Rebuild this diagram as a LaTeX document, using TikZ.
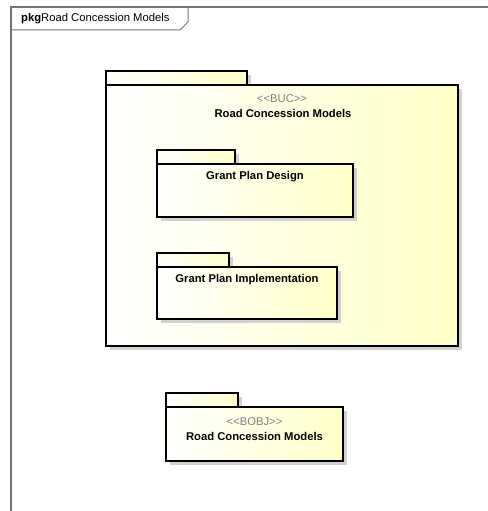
\documentclass[tikz,border=0pt]{standalone}
\usepackage{fontspec}
\setmainfont{Liberation Sans}[Ligatures=TeXOff]
\usetikzlibrary{calc}
\usetikzlibrary{positioning}
\tikzset{every node/.style={font=\fontsize{11.3}{13}\selectfont, inner sep=0}}
\definecolor{pkgyellow}{RGB}{255,255,200}
\colorlet{framegray}{black!55}
\colorlet{pkgshadow}{black!18}

% package: left, top, right, bottom, right end of tab
\newcommand{\pkgbox}[5]{%
  \fill[pkgshadow] ($(#1,#2)+(4,4)$) rectangle ($(#3,#4)+(4,4)$);
  \fill[pkgshadow] ($(#1,#2-14)+(4,4)$) rectangle ($(#5,#2)+(4,4)$);
  \shadedraw[left color=white, right color=pkgyellow, line width=1.6] (#1,#2-14) rectangle (#5,#2);
  \shadedraw[left color=white, right color=pkgyellow, line width=1.6] (#1,#2) rectangle (#3,#4);
}
\newcommand{\stereo}[1]{<\kern0pt<#1>\kern0pt>}

\begin{document}
\begin{tikzpicture}[x=1bp, y=-1bp]

\useasboundingbox (0,0) rectangle (488,511);
\clip (0,0) rectangle (488,511);

% 外框
\draw[framegray, line width=1.3] (11,520) -- (11,7) -- (500,7);
\draw[framegray, line width=1.0] (11,30) -- (180,30) -- (188,22) -- (188,7);
\node[anchor=west] (frametitle) at (21,19) {\textbf{pkg}Road Concession Models};

%%%%%%%%%%%%%%%%%%%%%%%%%%%%%%%%%%%%%%%%%%%%%%%%%%%%%%%%%%%%%%%%%%%%%%%%
% BUC
\pkgbox{106}{85}{458}{346}{247}
\node[text=black!50] (bucst) at (282,99) {\stereo{BUC}};
\node[font=\fontsize{11.3}{13}\selectfont\bfseries] (bucname) at (283,113) {Road Concession Models};

% 内部两个包
\pkgbox{157}{164}{353}{217}{235}
\node[font=\fontsize{11.3}{13}\selectfont\bfseries] (design) at (255,177) {Grant Plan Design};

\pkgbox{157}{267}{337}{319}{229}
\node[font=\fontsize{11.3}{13}\selectfont\bfseries] (impl) at (247,280) {Grant Plan Implementation};

%%%%%%%%%%%%%%%%%%%%%%%%%%%%%%%%%%%%%%%%%%%%%%%%%%%%%%%%%%%%%%%%%%%%%%%%
% BOBJ
\pkgbox{166}{407}{343}{461}{238}
\node[text=black!50] (bobjst) at (254.5,422) {\stereo{BOBJ}};
\node[font=\fontsize{11.3}{13}\selectfont\bfseries] (bobjname) at (254.5,436) {Road Concession Models};

\end{tikzpicture}
\end{document}
